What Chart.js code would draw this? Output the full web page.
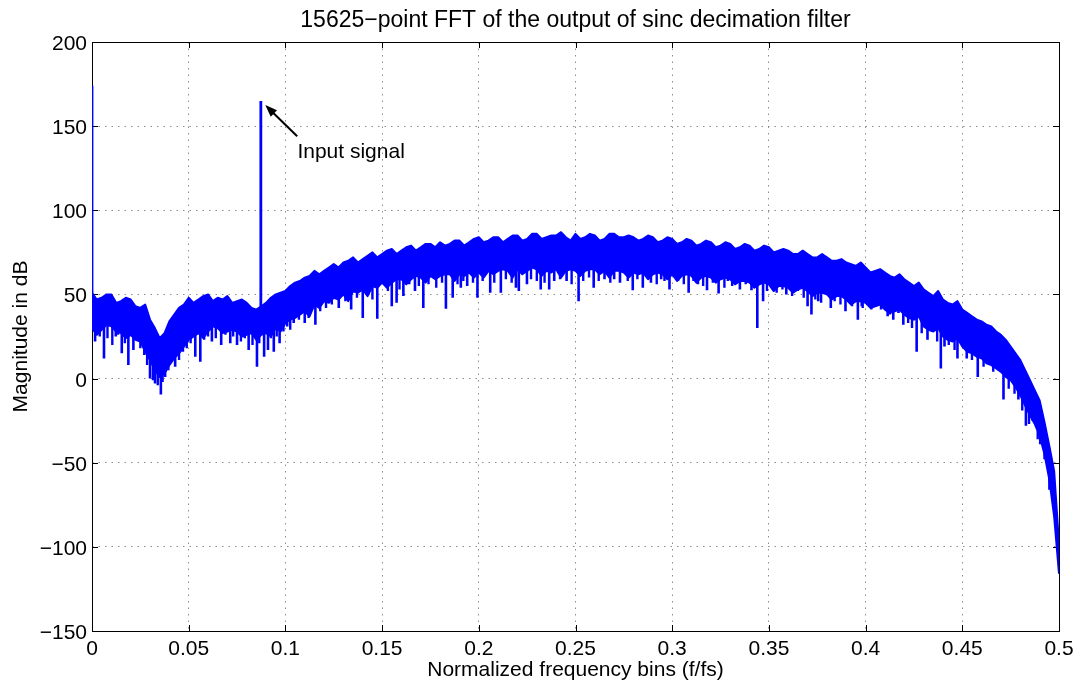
<!DOCTYPE html>
<html>
<head>
<meta charset="utf-8">
<title>15625-point FFT</title>
<script src="https://cdn.jsdelivr.net/npm/chart.js@4/dist/chart.umd.min.js"></script>
<style>
  html, body { margin: 0; padding: 0; background: #fff; }
  canvas { display: block; }
</style>
</head>
<body>
<canvas id="fft" width="1090" height="684"></canvas>
<script>
// bins are 0.0025 apart, from 0 to 0.5
const binStep = 0.0025;

// noise band edges (dB), one value per bin
const envTop = [
  51, 47, 48, 50, 50, 45, 46, 48, 47, 43, 42, 44, 35, 30, 24, 27, 34, 38, 42, 44,
  48, 45, 47, 49, 50, 46, 48, 47, 49, 45, 46, 47, 45, 42, 41, 43, 45, 48, 50, 51,
  52, 55, 57, 58, 60, 61, 64, 62, 64, 66, 68, 66, 69, 70, 72, 69, 71, 73, 75, 72,
  74, 76, 77, 74, 76, 78, 79, 76, 78, 80, 80, 78, 81, 79, 80, 82, 82, 79, 81, 83,
  84, 81, 82, 84, 84, 81, 83, 85, 85, 82, 83, 86, 86, 83, 84, 85, 85, 87, 84, 82,
  86, 83, 84, 86, 85, 82, 83, 86, 86, 84, 84, 85, 84, 82, 83, 85, 84, 81, 82, 84,
  83, 80, 81, 83, 82, 79, 80, 82, 81, 78, 79, 81, 80, 77, 78, 80, 79, 76, 77, 79,
  78, 75, 76, 77, 76, 74, 74, 76, 74, 72, 72, 74, 72, 70, 70, 71, 69, 68, 67, 69,
  66, 63, 64, 65, 63, 61, 60, 62, 59, 57, 55, 57, 53, 51, 49, 52, 47, 45, 44, 46,
  41, 39, 37, 35, 34, 32, 31, 28, 26, 23, 19, 15, 11, 5, -1, -7, -13, -26, -40, -55,
  -98
];
const envBottom = [
  30, 26, 29, 32, 31, 28, 27, 24, 26, 23, 22, 16, 11, 5, 1, 3, 8, 12, 15, 19,
  23, 25, 27, 24, 28, 31, 30, 27, 28, 29, 28, 25, 26, 27, 23, 26, 27, 25, 30, 28,
  33, 35, 36, 38, 40, 37, 44, 42, 46, 45, 48, 47, 50, 46, 52, 51, 53, 49, 55, 54,
  57, 54, 57, 59, 59, 56, 59, 61, 60, 57, 61, 59, 61, 62, 62, 58, 62, 61, 63, 60,
  63, 60, 64, 62, 64, 65, 64, 60, 65, 62, 64, 66, 65, 61, 64, 63, 65, 60, 64, 65,
  64, 61, 64, 65, 65, 62, 64, 60, 64, 64, 63, 60, 63, 62, 63, 59, 62, 63, 62, 59,
  62, 58, 61, 62, 61, 57, 60, 61, 60, 57, 59, 60, 59, 56, 58, 58, 57, 54, 56, 57,
  56, 52, 55, 55, 54, 51, 53, 54, 52, 49, 51, 51, 50, 47, 49, 49, 47, 44, 46, 46,
  45, 42, 43, 44, 41, 39, 40, 41, 38, 36, 35, 37, 31, 29, 28, 30, 25, 23, 22, 24,
  19, 16, 15, 13, 12, 9, 8, 6, 4, 1, -1, -5, -10, -16, -22, -27, -34, -45, -60, -82,
  -116
];
const envFreq = envTop.map((_, i) => i * binStep);

// deep notches below the band
const dipFreq = [
  0.0016, 0.0062, 0.0123, 0.0154, 0.0188, 0.0214, 0.023, 0.030, 0.0326, 0.0356,
  0.0378, 0.043, 0.047, 0.0534, 0.056, 0.062, 0.0668, 0.0715, 0.075, 0.081,
  0.0853, 0.089, 0.091, 0.094, 0.097, 0.1009, 0.1043, 0.110, 0.1155, 0.1276,
  0.134, 0.140, 0.1475, 0.151, 0.155, 0.1575, 0.161, 0.164, 0.167, 0.1713,
  0.183, 0.1865, 0.1907, 0.194, 0.1993, 0.2059, 0.2114, 0.2192, 0.2207, 0.2249,
  0.232, 0.2364, 0.239, 0.2454, 0.2516, 0.2594, 0.265, 0.270, 0.273, 0.2796,
  0.2848, 0.289, 0.2943, 0.2986, 0.303, 0.3085, 0.3133, 0.318, 0.324, 0.3288,
  0.335, 0.341, 0.344, 0.347, 0.3513, 0.359, 0.365, 0.370, 0.372, 0.3755,
  0.379, 0.382, 0.3896, 0.396, 0.398, 0.401, 0.405, 0.408, 0.4114, 0.4143,
  0.417, 0.4195, 0.4264, 0.432, 0.435, 0.4389, 0.4408, 0.4446, 0.4475, 0.4523,
  0.458, 0.464, 0.4688, 0.4713, 0.479, 0.4829, 0.4864, 0.4903, 0.4978
];
const dipMag = [
  22, 12, 25, 15, 8, 17, 23, 0, -3, -9.5,
  1, 7, 16, 13, 10, 22, 20, 21, 20, 17,
  7, 13, 17, 16, 21, 31, 33, 33, 32, 42,
  41, 36, 35.5, 56, 43, 45, 49, 56, 52, 42,
  41.5, 48, 54, 55, 48, 51, 51, 54, 52, 56,
  53, 53, 58, 58, 46, 54, 59, 59, 57, 52.5,
  54, 57, 59, 53, 58, 51, 56, 52.5, 50.5, 58,
  53, 52.5, 30, 46, 56, 50, 52, 43, 38, 46,
  52, 42, 40, 35, 43, 44, 44, 41, 37, 35,
  39, 32, 16, 23, 28, 6, 19, 23, 12, 12,
  1, 11, 5, -12.5, -12.5, -28, -25, -39, -76
];

// shallower notches that make the lower edge ragged
const notchFreq = [
  0.004, 0.008, 0.0105, 0.0135, 0.017, 0.025, 0.027, 0.0285, 0.0315, 0.034,
  0.0365, 0.0395, 0.041, 0.045, 0.049, 0.051, 0.058, 0.060, 0.064, 0.069,
  0.073, 0.077, 0.079, 0.083, 0.0865, 0.0925, 0.0955, 0.099, 0.1025, 0.107,
  0.112, 0.118, 0.121, 0.124, 0.131, 0.137, 0.143, 0.145, 0.153, 0.159,
  0.169, 0.174, 0.178, 0.181, 0.189, 0.192, 0.197, 0.202, 0.208, 0.214,
  0.217, 0.227, 0.230, 0.234, 0.242, 0.248, 0.254, 0.257, 0.262, 0.268,
  0.277, 0.282, 0.287, 0.292, 0.296, 0.306, 0.311, 0.316, 0.321, 0.327,
  0.331, 0.338, 0.343, 0.349, 0.354, 0.357, 0.362, 0.368, 0.374, 0.377,
  0.384, 0.387, 0.393, 0.3985, 0.403, 0.4125, 0.422, 0.424, 0.429, 0.437,
  0.443, 0.446, 0.455, 0.461, 0.466, 0.474, 0.477, 0.481, 0.4845, 0.489,
  0.4925, 0.495
];
const notchMag = [
  25, 24, 20, 26, 21, 18, 14, 8, -1, -4,
  -2, 5, 12, 11, 18, 21, 23, 25, 24, 26,
  25, 22, 24, 20, 21, 24, 25, 28, 29, 35,
  36, 40, 42, 44, 46, 48, 50, 47, 52, 53,
  55, 56, 54, 57, 56, 58, 57, 58, 57, 59,
  57, 59, 58, 57, 59, 56, 58, 60, 58, 57,
  58, 59, 60, 56, 58, 56, 58, 55, 57, 54,
  55, 56, 54, 52, 51, 53, 49, 48, 47, 45,
  46, 44, 43, 42, 41, 38, 33, 30, 27, 22,
  20, 17, 11, 7, 4, -6, -9, -19, -27, -36,
  -48, -66
];

// DC term and the input tone
const peakFreq = [0, 0.0873];
const peakMag = [174, 165];

const BLUE = '#0000ff';
const FONT = '21px "Liberation Sans", Arial, Helvetica, sans-serif';
const TITLE_FONT = '23px "Liberation Sans", Arial, Helvetica, sans-serif';

const nearestBin = (f) => Math.min(envFreq.length - 1, Math.round(f / binStep));

// vertical strokes from inside the band out to each value
const stems = (freqs, mags) => freqs.flatMap((f, k) => [
  { x: f, y: envBottom[nearestBin(f)] + 3 },
  { x: f, y: mags[k] },
  { x: f, y: null },
]);

const lineStyle = {
  borderColor: BLUE,
  borderWidth: 2,
  pointRadius: 0,
  tension: 0,
  borderJoinStyle: 'round',
  spanGaps: false,
  fill: false,
};

const fmtX = (v) => String(parseFloat(v.toFixed(2)));
const fmtY = (v) => String(v).replace('-', '\u2212');

const matlabAxes = {
  id: 'matlabAxes',
  beforeDatasetsDraw(chart) {
    const { ctx, chartArea: a, scales: { x, y } } = chart;
    ctx.save();
    ctx.strokeStyle = '#000';
    ctx.lineWidth = 1;
    ctx.beginPath();
    x.ticks.forEach((t) => {
      const px = Math.round(x.getPixelForValue(t.value)) + 0.5;
      ctx.moveTo(px, a.bottom); ctx.lineTo(px, a.bottom - 6);
      ctx.moveTo(px, a.top); ctx.lineTo(px, a.top + 6);
    });
    y.ticks.forEach((t) => {
      const py = Math.round(y.getPixelForValue(t.value)) + 0.5;
      ctx.moveTo(a.left, py); ctx.lineTo(a.left + 6, py);
      ctx.moveTo(a.right, py); ctx.lineTo(a.right - 6, py);
    });
    ctx.stroke();
    ctx.strokeRect(Math.round(a.left) + 0.5, Math.round(a.top) + 0.5,
      Math.round(a.right - a.left), Math.round(a.bottom - a.top));
    ctx.restore();
  },
  afterDraw(chart) {
    const { ctx, chartArea: a, scales: { x, y } } = chart;
    ctx.save();
    ctx.fillStyle = '#000';
    ctx.font = FONT;

    // tick labels
    ctx.textAlign = 'center';
    ctx.textBaseline = 'alphabetic';
    x.ticks.forEach((t) => {
      ctx.fillText(fmtX(t.value), x.getPixelForValue(t.value), a.bottom + 24);
    });
    ctx.textAlign = 'right';
    y.ticks.forEach((t) => {
      ctx.fillText(fmtY(t.value), a.left - 5, y.getPixelForValue(t.value) + 8);
    });

    // axis labels and title
    const cx = (a.left + a.right) / 2;
    ctx.textAlign = 'center';
    ctx.fillText('Normalized frequency bins (f/fs)', cx, 676);
    ctx.save();
    ctx.translate(27, (a.top + a.bottom) / 2);
    ctx.rotate(-Math.PI / 2);
    ctx.fillText('Magnitude in dB', 0, 0);
    ctx.restore();
    ctx.font = TITLE_FONT;
    ctx.fillText('15625\u2212point FFT of the output of sinc decimation filter', cx, 27);
    ctx.font = FONT;

    // annotation arrow
    const tipX = x.getPixelForValue(0.0896), tipY = y.getPixelForValue(162.5);
    const tailX = x.getPixelForValue(0.1061), tailY = y.getPixelForValue(144);
    const ang = Math.atan2(tipY - tailY, tipX - tailX);
    ctx.strokeStyle = '#000';
    ctx.lineWidth = 2;
    ctx.beginPath();
    ctx.moveTo(tailX, tailY);
    ctx.lineTo(tipX - 8 * Math.cos(ang), tipY - 8 * Math.sin(ang));
    ctx.stroke();
    ctx.beginPath();
    ctx.moveTo(tipX, tipY);
    ctx.lineTo(tipX - 12 * Math.cos(ang) + 4.5 * Math.sin(ang), tipY - 12 * Math.sin(ang) - 4.5 * Math.cos(ang));
    ctx.lineTo(tipX - 12 * Math.cos(ang) - 4.5 * Math.sin(ang), tipY - 12 * Math.sin(ang) + 4.5 * Math.cos(ang));
    ctx.closePath();
    ctx.fill();
    ctx.textAlign = 'left';
    ctx.fillText('Input signal', x.getPixelForValue(0.1062), y.getPixelForValue(131.3));
    ctx.restore();
  },
};

new Chart(document.getElementById('fft'), {
  type: 'line',
  data: {
    datasets: [
      {
        ...lineStyle,
        data: envFreq.map((f, i) => ({ x: f, y: envTop[i] })),
        fill: '+1',
        backgroundColor: BLUE,
      },
      { ...lineStyle, data: envFreq.map((f, i) => ({ x: f, y: envBottom[i] })) },
      { ...lineStyle, borderWidth: 2.6, borderJoinStyle: 'miter', data: stems(dipFreq, dipMag) },
      { ...lineStyle, borderWidth: 2.4, borderJoinStyle: 'miter', data: stems(notchFreq, notchMag) },
      { ...lineStyle, borderWidth: 2.8, borderJoinStyle: 'miter', data: stems(peakFreq, peakMag) },
    ],
  },
  options: {
    responsive: false,
    animation: false,
    devicePixelRatio: 1,
    layout: { padding: { top: 42, right: 31, left: 0, bottom: 0 } },
    plugins: {
      legend: { display: false },
      tooltip: { enabled: false },
      title: { display: false },
    },
    scales: {
      x: {
        type: 'linear',
        min: 0,
        max: 0.5,
        ticks: { stepSize: 0.05, display: false },
        grid: { color: '#8c8c8c', lineWidth: 1, drawTicks: false },
        border: { display: false, dash: [1.5, 5] },
        afterFit(s) { s.height = 53; },
      },
      y: {
        type: 'linear',
        min: -150,
        max: 200,
        ticks: { stepSize: 50, display: false },
        grid: { color: '#8c8c8c', lineWidth: 1, drawTicks: false },
        border: { display: false, dash: [1.5, 5] },
        afterFit(s) { s.width = 92; },
      },
    },
  },
  plugins: [matlabAxes],
});
</script>
</body>
</html>
